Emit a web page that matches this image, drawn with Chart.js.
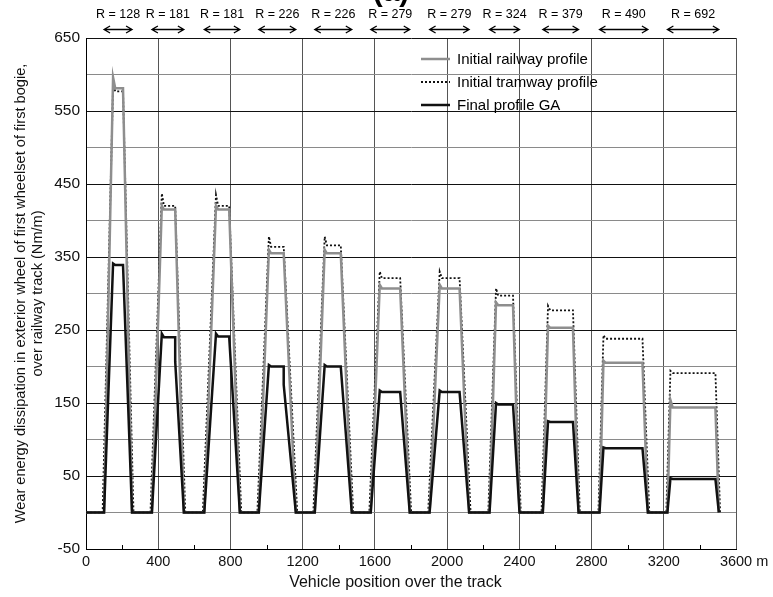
<!DOCTYPE html>
<html>
<head>
<meta charset="utf-8">
<script src="https://cdn.jsdelivr.net/npm/chart.js@4.4.1/dist/chart.umd.min.js"></script>
<style>
  body { margin: 0; background: #fff; }
  #wrap { width: 773px; height: 597px; }
</style>
</head>
<body>
<div id="wrap"><canvas id="myChart"></canvas></div>
<script>
// curve radii shown above the plot
const radii = ["R = 128", "R = 181", "R = 181", "R = 226", "R = 226", "R = 279", "R = 279", "R = 324", "R = 379", "R = 490", "R = 692"];

// positions along the track (m) of each curve: entry, start of full curve, end of full curve, exit
const curveStart = [100, 365, 655, 957, 1267, 1577, 1903, 2235, 2530, 2844, 3220];
const topStart = [150, 420, 720, 1013, 1322, 1627, 1959, 2271, 2559, 2866, 3237];
const topEnd = [205, 494, 793, 1095, 1411, 1740, 2069, 2365, 2697, 3082, 3486];
const curveEnd = [255, 542, 852, 1162, 1472, 1793, 2122, 2401, 2728, 3112, 3505];
const tramwayStart = [92, 357, 647, 949, 1259, 1569, 1895, 2228, 2523, 2838, 3214];
const tramwayEnd = [263, 550, 860, 1170, 1480, 1801, 2130, 2408, 2735, 3120, 3512];

// wear levels (Nm/m) on each curve
const railwayPeak = [596, 420, 420, 360, 360, 312, 312, 288, 256, 208, 154];
const railwayLevel = [581, 415, 415, 355, 355, 307, 307, 284, 253, 205, 144];
const tramwayPeak = [585, 437, 435, 378, 378, 330, 330, 307, 283, 243, 194];
const tramwayLevel = [577, 420, 420, 364, 366, 321, 321, 297, 277, 238, 191];
const gaPeak = [341, 245, 245, 202, 202, 167, 167, 150, 125, 89, 47];
const gaLevel = [339, 240, 241, 200, 200, 165, 165, 148, 124, 88, 46];
const gaDrop = [null, 207, null, 175, null, null, null, null, null, null, null];

const FONT = "'Liberation Sans', Arial, sans-serif";

function buildPoints(starts, ends, peaks, levels, drops) {
    const pts = [{ x: 0, y: 0 }];
    for (let i = 0; i < starts.length; i++) {
        pts.push({ x: starts[i], y: 0 });
        pts.push({ x: topStart[i], y: peaks[i] });
        pts.push({ x: topStart[i] + 12, y: levels[i] });
        pts.push({ x: topEnd[i], y: levels[i] });
        if (drops && drops[i] !== null) pts.push({ x: topEnd[i], y: drops[i] });
        pts.push({ x: ends[i], y: 0 });
    }
    return pts;
}

const data = {
    datasets: [
        {
            label: "Initial railway profile",
            data: buildPoints(curveStart, curveEnd, railwayPeak, railwayLevel),
            borderColor: "#8e8e8e",
            borderWidth: 2.5,
            order: 1,
        },
        {
            label: "Initial tramway profile",
            data: buildPoints(tramwayStart, tramwayEnd, tramwayPeak, tramwayLevel),
            borderColor: "#111",
            borderWidth: 1.8,
            borderDash: [2, 2],
            order: 2,
        },
        {
            label: "Final profile GA",
            data: buildPoints(curveStart, curveEnd, gaPeak, gaLevel, gaDrop),
            borderColor: "#111",
            borderWidth: 2.5,
            order: 0,
        },
    ],
};

// extra drawing: minor ticks, radius labels with arrows, "(a)", legend
const decorations = {
    id: "decorations",
    afterDraw(chart) {
        const { ctx, chartArea, scales } = chart;
        const x = scales.x;
        ctx.save();
        // minor ticks on the x axis
        ctx.strokeStyle = "#000";
        ctx.lineWidth = 1;
        for (let v = 200; v < 3600; v += 400) {
            const px = Math.round(x.getPixelForValue(v)) + 0.5;
            ctx.beginPath();
            ctx.moveTo(px, chartArea.bottom);
            ctx.lineTo(px, chartArea.bottom - 4);
            ctx.stroke();
        }
        // radius labels and arrows
        ctx.fillStyle = "#000";
        ctx.font = "12.5px " + FONT;
        ctx.textAlign = "center";
        ctx.textBaseline = "middle";
        for (let i = 0; i < radii.length; i++) {
            const a = x.getPixelForValue(curveStart[i]);
            const b = x.getPixelForValue(curveEnd[i]);
            const mid = (a + b) / 2;
            ctx.fillText(radii[i], mid, 15);
            const y = 29.5;
            ctx.lineWidth = 1.3;
            ctx.beginPath();
            ctx.moveTo(a, y);
            ctx.lineTo(b, y);
            ctx.moveTo(a + 6, y - 3.5);
            ctx.lineTo(a, y);
            ctx.lineTo(a + 6, y + 3.5);
            ctx.moveTo(b - 6, y - 3.5);
            ctx.lineTo(b, y);
            ctx.lineTo(b - 6, y + 3.5);
            ctx.stroke();
        }
        // panel letter, cut at the top edge
        ctx.font = "bold 30px " + FONT;
        ctx.textBaseline = "alphabetic";
        ctx.fillText("(a)", 391, 1);
        // legend
        const rows = [59, 82, 105];
        ctx.font = "15px " + FONT;
        ctx.textAlign = "left";
        ctx.textBaseline = "middle";
        chart.data.datasets.forEach((ds, i) => {
            ctx.strokeStyle = ds.borderColor;
            ctx.lineWidth = ds.borderWidth;
            ctx.setLineDash(ds.borderDash || []);
            ctx.beginPath();
            ctx.moveTo(421, rows[i]);
            ctx.lineTo(450, rows[i]);
            ctx.stroke();
            ctx.setLineDash([]);
            ctx.fillText(ds.label, 457, rows[i] + 1);
        });
        ctx.restore();
    },
};

const config = {
    type: "line",
    data,
    options: {
        responsive: true,
        maintainAspectRatio: false,
        animation: false,
        layout: { padding: { top: 38, right: 37, left: 0, bottom: 0 } },
        elements: {
            point: { radius: 0 },
            line: { tension: 0, fill: false },
        },
        plugins: {
            legend: { display: false },
            tooltip: { enabled: false },
        },
        scales: {
            x: {
                type: "linear",
                min: 0,
                max: 3600,
                afterFit: (s) => { s.height = 48; },
                ticks: {
                    stepSize: 200,
                    autoSkip: false,
                    maxRotation: 0,
                    padding: 4,
                    color: "#111",
                    font: { family: FONT, size: 14.5 },
                    callback: (v) => {
                        if (v % 400 !== 0) return "";
                        return v === 3600 ? "    3600 m" : String(v);
                    },
                },
                grid: {
                    drawTicks: false,
                    color: (c) => (c.tick && c.tick.value % 400 === 0 ? "#555" : "rgba(0,0,0,0)"),
                },
                border: { color: "#000", width: 1 },
                title: {
                    display: true,
                    // trailing spaces nudge the centred title a little to the left, as in the original
                    text: "Vehicle position over the track       ",
                    color: "#111",
                    font: { family: FONT, size: 16 },
                    padding: { top: 0, bottom: 5 },
                },
            },
            y: {
                min: -50,
                max: 650,
                afterFit: (s) => { s.width = 86; },
                ticks: {
                    stepSize: 50,
                    autoSkip: false,
                    padding: 6,
                    color: "#111",
                    font: { family: FONT, size: 15.5 },
                    callback: (v) => ((v + 50) % 100 === 0 ? String(v) : ""),
                },
                grid: {
                    drawTicks: false,
                    color: (c) => (c.tick && (c.tick.value + 50) % 100 === 0 ? "#111" : "#8a8a8a"),
                },
                border: { color: "#000", width: 1 },
                title: {
                    display: true,
                    text: ["Wear energy dissipation in exterior wheel of first wheelset of first bogie,", "over railway track (Nm/m)"],
                    color: "#111",
                    font: { family: FONT, size: 14.6 },
                    padding: { top: 12, bottom: 0 },
                },
            },
        },
    },
    plugins: [decorations],
};

const ctx = document.getElementById("myChart").getContext("2d");
const chart = new Chart(ctx, config);
</script>
</body>
</html>
